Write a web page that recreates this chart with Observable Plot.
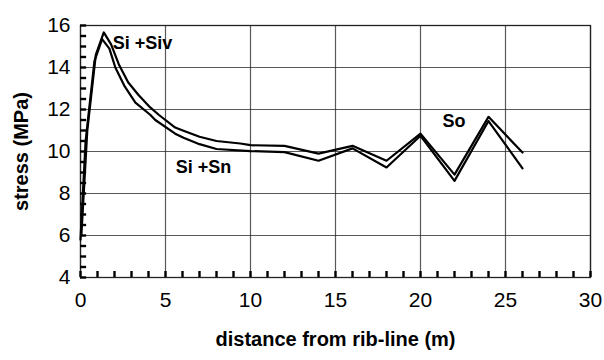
<!DOCTYPE html>
<html>
<head>
<meta charset="utf-8">
<script src="https://cdn.jsdelivr.net/npm/d3@7"></script>
<script src="https://cdn.jsdelivr.net/npm/@observablehq/plot@0.6"></script>
<style>
  body { margin: 0; background: #fff; }
  #chart svg { display: block; }
</style>
</head>
<body>
<div id="chart"></div>
<script>
// Si + Siv (upper curve)
const sivX = [0.05, 0.4, 0.9, 1.37, 1.8, 2.25, 2.8, 3.4, 4.1, 4.6, 5.57, 6.06, 7, 8, 9.4, 10, 12, 14, 16, 18, 20, 22, 24, 26];
const sivY = [6.0, 11.0, 14.6, 15.67, 15.1, 14.16, 13.3, 12.7, 12.1, 11.75, 11.14, 10.99, 10.7, 10.5, 10.38, 10.3, 10.27, 9.9, 10.27, 9.56, 10.85, 8.9, 11.65, 9.95];
// Si + Sn (lower curve)
const snX = [0.0, 0.3, 0.82, 1.27, 1.7, 2.05, 2.6, 3.23, 4.1, 4.4, 5.57, 6.06, 7, 8, 10, 12, 14, 16, 18, 20, 22, 24, 26];
const snY = [5.8, 10.5, 14.3, 15.35, 14.9, 14.0, 13.1, 12.33, 11.75, 11.5, 10.85, 10.65, 10.35, 10.12, 10.02, 9.97, 9.56, 10.15, 9.24, 10.75, 8.6, 11.45, 9.2];

const xMajor = [0, 5, 10, 15, 20, 25, 30];
const xMinor = [];
for (let v = 0; v <= 30; v += 1) xMinor.push(v);
const yMajor = [4, 6, 8, 10, 12, 14, 16];
const yMinor = [];
for (let v = 4; v <= 16.001; v += 0.5) yMinor.push(v);

const labelText = ["Si +Siv", "Si +Sn", "So"];
const labelX = [1.9, 5.6, 21.3];
const labelY = [15.15, 9.25, 11.42];

const siv = sivX.map((x, i) => ({x, y: sivY[i]}));
const sn = snX.map((x, i) => ({x, y: snY[i]}));
const labels = labelText.map((t, i) => ({t, x: labelX[i], y: labelY[i]}));

const font = "'Liberation Sans', Arial, Helvetica, sans-serif";

const chart = Plot.plot({
  width: 604,
  height: 360,
  marginLeft: 80,
  marginRight: 14,
  marginTop: 25,
  marginBottom: 83,
  style: {fontFamily: font, background: "#fff", color: "#111"},
  x: {type: "linear", domain: [0, 30]},
  y: {type: "linear", domain: [4, 16]},
  marks: [
    Plot.gridX(xMajor, {stroke: "#222", strokeOpacity: 0.75, strokeWidth: 1.2}),
    Plot.gridY(yMajor, {stroke: "#222", strokeOpacity: 0.75, strokeWidth: 1.2}),
    Plot.frame({stroke: "#222", strokeWidth: 1.3}),
    // inward minor ticks
    Plot.axisX(xMinor, {anchor: "bottom", tickSize: 6, dy: -6, tickFormat: () => "", label: null, stroke: "#000", strokeWidth: 2.4, strokeOpacity: 1}),
    Plot.ruleY(yMinor.map(v => ({v})), {y: "v", x1: () => 0, x2: () => 0.36, stroke: "#000", strokeWidth: 2.4}),
    Plot.axisX(xMajor, {tickSize: 0, tickPadding: 15, fontSize: 21, label: null, fill: "#000"}),
    Plot.axisY(yMajor, {tickSize: 0, tickPadding: 10, fontSize: 21, label: null, fill: "#000"}),
    Plot.line(siv, {x: "x", y: "y", stroke: "#000", strokeWidth: 2.2}),
    Plot.line(sn, {x: "x", y: "y", stroke: "#000", strokeWidth: 2.2}),
    Plot.text(labels, {x: "x", y: "y", text: "t", textAnchor: "start", fontSize: 18, fontWeight: "bold", fill: "#000"}),
    Plot.text(["distance from rib-line (m)"], {frameAnchor: "bottom", textAnchor: "middle", dy: 68, fontSize: 20, fontWeight: "bold", fill: "#000", letterSpacing: "2.2px"}),
    Plot.text(["stress (MPa)"], {frameAnchor: "left", textAnchor: "middle", dx: -59, rotate: -90, fontSize: 20, fontWeight: "bold", fill: "#000", letterSpacing: "1.2px"})
  ]
});
document.getElementById("chart").appendChild(chart);
</script>
</body>
</html>
